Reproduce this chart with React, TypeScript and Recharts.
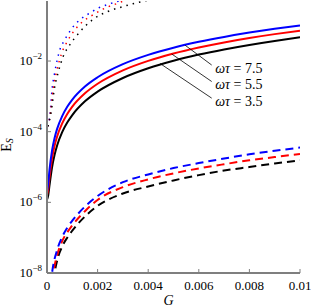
import React from 'react';
import { LineChart, Line, XAxis, YAxis, ReferenceLine, ReferenceDot } from 'recharts';

// solid curves
const G_SOLID = [0, 0.00005, 0.0001, 0.0002, 0.0003, 0.0004, 0.0006, 0.0008, 0.001, 0.0015, 0.002, 0.003, 0.004, 0.005, 0.006, 0.007, 0.008, 0.009, 0.01];
const SOLID_BLUE = [2.0e-6, 3.5e-6, 8.4e-6, 2.96e-5, 6.67e-5, 1.2e-4, 2.77e-4, 5.07e-4, 8.1e-4, 1.9e-3, 3.47e-3, 8.14e-3, 1.49e-2, 2.38e-2, 3.49e-2, 4.82e-2, 6.38e-2, 8.17e-2, 0.102];
const SOLID_RED = [1.6e-6, 2.42e-6, 5.2e-6, 1.77e-5, 4.01e-5, 7.3e-5, 1.71e-4, 3.18e-4, 5.13e-4, 1.22e-3, 2.27e-3, 5.44e-3, 1.01e-2, 1.63e-2, 2.41e-2, 3.36e-2, 4.48e-2, 5.77e-2, 7.24e-2];
const SOLID_BLACK = [1.2e-6, 1.61e-6, 3.06e-6, 9.8e-6, 2.21e-5, 4.06e-5, 9.7e-5, 1.81e-4, 2.95e-4, 7.22e-4, 1.36e-3, 3.31e-3, 6.24e-3, 1.02e-2, 1.52e-2, 2.13e-2, 2.86e-2, 3.71e-2, 4.68e-2];

// dashed curves
const G_DASH_BLUE = [0.0001, 0.0002, 0.0004, 0.0006, 0.0008, 0.001, 0.0015, 0.002, 0.003, 0.004, 0.005, 0.006, 0.007, 0.008, 0.009, 0.01];
const DASH_BLUE = [2.0e-9, 1.0e-8, 4.47e-8, 1.05e-7, 1.91e-7, 3.02e-7, 7.59e-7, 1.51e-6, 3.72e-6, 6.17e-6, 9.33e-6, 1.29e-5, 1.74e-5, 2.29e-5, 2.88e-5, 3.55e-5];
const G_DASH_RED = [0.00015, 0.00025, 0.0004, 0.0006, 0.0008, 0.001, 0.0015, 0.002, 0.003, 0.004, 0.005, 0.006, 0.007, 0.008, 0.009, 0.01];
const DASH_RED = [2.5e-9, 1.0e-8, 3.16e-8, 7.94e-8, 1.41e-7, 2.24e-7, 5.62e-7, 1.17e-6, 2.69e-6, 4.47e-6, 6.61e-6, 9.12e-6, 1.2e-5, 1.55e-5, 1.91e-5, 2.34e-5];
const G_DASH_BLACK = [0.0002, 0.0003, 0.0004, 0.0006, 0.0008, 0.001, 0.0015, 0.002, 0.003, 0.004, 0.005, 0.006, 0.007, 0.008, 0.009, 0.01];
const DASH_BLACK = [2.5e-9, 1.0e-8, 2.24e-8, 5.62e-8, 1.0e-7, 1.58e-7, 3.98e-7, 7.94e-7, 1.78e-6, 2.82e-6, 4.17e-6, 5.89e-6, 7.94e-6, 1.0e-5, 1.26e-5, 1.55e-5];

// dotted curves
const G_DOT_BLUE = [0.00002, 0.00012, 0.0002, 0.0003, 0.0005, 0.0007, 0.001, 0.0013, 0.0017, 0.002, 0.0024, 0.0029, 0.0033];
const DOT_BLUE = [1.41e-4, 3.16e-4, 1.58e-3, 4.47e-3, 2.0e-2, 3.98e-2, 8.71e-2, 0.148, 0.229, 0.309, 0.398, 0.513, 0.6];
const G_DOT_RED = [0.00003, 0.00012, 0.00025, 0.00038, 0.00058, 0.0008, 0.0011, 0.0014, 0.0018, 0.0023, 0.0027, 0.003, 0.0034];
const DOT_RED = [1.41e-4, 2.82e-4, 1.74e-3, 5.01e-3, 1.66e-2, 3.55e-2, 7.59e-2, 0.129, 0.2, 0.316, 0.407, 0.49, 0.575];
const G_DOT_BLACK = [0.00004, 0.00015, 0.0003, 0.00045, 0.00064, 0.0009, 0.0012, 0.0015, 0.0019, 0.0024, 0.003, 0.0034, 0.0038, 0.0042];
const DOT_BLACK = [1.41e-4, 3.16e-4, 1.78e-3, 5.01e-3, 1.35e-2, 2.88e-2, 5.5e-2, 9.55e-2, 0.166, 0.251, 0.347, 0.417, 0.49, 0.56];

// axes
const X_TICKS = [0, 0.002, 0.004, 0.006, 0.008, 0.01];
const X_TICK_LABELS = ['0', '0.002', '0.004', '0.006', '0.008', '0.01'];
const Y_TICKS = [1e-8, 1e-6, 1e-4, 1e-2];
const Y_DOMAIN = [1e-8, 0.5];

// leader-line annotations (omega tau values)
const NOTE_VALUES = ['7.5', '5.5', '3.5'];
const NOTE_FROM_G = [0.00546, 0.00493, 0.00447];
const NOTE_FROM_E = [0.028, 0.0158, 0.0085];
const NOTE_TO_G = [0.00651, 0.00651, 0.00651];
const NOTE_TO_E = [0.0077, 0.00263, 0.00089];

const zip = (gs: number[], es: number[]) => gs.map((g, i) => ({ g, e: es[i] }));

const FONT = 'Liberation Serif';
const AXIS_GRAY = '#7f7f7f';

const XTick = ({ x, y, index }: any) => (
  <text x={x} y={y + 8.5} textAnchor="middle" fontSize={13} fontFamily={FONT} fill="#000">
    {X_TICK_LABELS[index]}
  </text>
);

const YTick = ({ x, y, payload }: any) => {
  const p = Math.round(Math.log10(payload.value));
  return (
    <text x={x} y={y + 4} textAnchor="end" fontSize={13} fontFamily={FONT} fill="#000">
      <tspan>10</tspan>
      <tspan dy={-6} fontSize={9}>{'\u2212' + Math.abs(p)}</tspan>
    </text>
  );
};

const NoTick = () => <g />;

const series = [
  { key: 'dotB', data: zip(G_DOT_BLUE, DOT_BLUE), color: '#0000ff', w: 1.5, dash: '1.5 5' },
  { key: 'dotR', data: zip(G_DOT_RED, DOT_RED), color: '#ff0000', w: 1.5, dash: '1.5 5' },
  { key: 'dotK', data: zip(G_DOT_BLACK, DOT_BLACK), color: '#000000', w: 1.5, dash: '1.5 5' },
  { key: 'dashK', data: zip(G_DASH_BLACK, DASH_BLACK), color: '#000000', w: 2, dash: '8 5' },
  { key: 'dashR', data: zip(G_DASH_RED, DASH_RED), color: '#ff0000', w: 2, dash: '8 5' },
  { key: 'dashB', data: zip(G_DASH_BLUE, DASH_BLUE), color: '#0000ff', w: 2, dash: '8 5' },
  { key: 'solK', data: zip(G_SOLID, SOLID_BLACK), color: '#000000', w: 2, dash: undefined },
  { key: 'solR', data: zip(G_SOLID, SOLID_RED), color: '#ff0000', w: 2, dash: undefined },
  { key: 'solB', data: zip(G_SOLID, SOLID_BLUE), color: '#0000ff', w: 2, dash: undefined },
];

export default function App() {
  return (
    <div style={{ position: 'absolute', left: 0, top: 0, background: '#fff' }}>
      <LineChart width={311} height={307} margin={{ top: 1, right: 11, bottom: 0, left: 0 }}>
        <XAxis
          dataKey="g"
          type="number"
          domain={[0, 0.01]}
          ticks={X_TICKS}
          interval={0}
          height={34}
          tickSize={-4}
          tickMargin={12}
          tick={<XTick />}
          axisLine={{ stroke: AXIS_GRAY, strokeWidth: 2 }}
          tickLine={{ stroke: AXIS_GRAY }}
          allowDataOverflow
          label={{
            content: () => (
              <text x={168.5} y={305} textAnchor="middle" fontSize={14} fontStyle="italic" fontFamily={FONT} fill="#000">
                G
              </text>
            ),
          }}
        />
        <XAxis
          xAxisId="top"
          orientation="top"
          type="number"
          domain={[0, 0.01]}
          ticks={X_TICKS}
          interval={0}
          height={0}
          tickSize={-4}
          tick={<NoTick />}
          axisLine={{ stroke: AXIS_GRAY, strokeWidth: 2 }}
          tickLine={{ stroke: AXIS_GRAY }}
        />
        <YAxis
          scale="log"
          domain={Y_DOMAIN}
          ticks={Y_TICKS}
          interval={0}
          width={47}
          tickSize={-4}
          tickMargin={9}
          tick={<YTick />}
          axisLine={{ stroke: AXIS_GRAY, strokeWidth: 2 }}
          tickLine={{ stroke: AXIS_GRAY }}
          allowDataOverflow
          label={{
            content: () => (
              <text transform="rotate(-90)" x={-145} y={11} textAnchor="middle" fontSize={14} fontFamily={FONT} fill="#000">
                <tspan>E</tspan>
                <tspan dy={2} fontSize={10} fontStyle="italic">S</tspan>
              </text>
            ),
          }}
        />
        <YAxis
          yAxisId="right"
          orientation="right"
          scale="log"
          domain={Y_DOMAIN}
          ticks={Y_TICKS}
          interval={0}
          width={0}
          tickSize={-4}
          tick={<NoTick />}
          axisLine={{ stroke: AXIS_GRAY, strokeWidth: 2 }}
          tickLine={{ stroke: AXIS_GRAY }}
          allowDataOverflow
        />
        {series.map((s) => (
          <Line
            key={s.key}
            data={s.data}
            dataKey="e"
            type="monotone"
            stroke={s.color}
            strokeWidth={s.w}
            strokeDasharray={s.dash}
            dot={false}
            activeDot={false}
            isAnimationActive={false}
          />
        ))}
        {NOTE_VALUES.map((v, i) => (
          <ReferenceLine
            key={'l' + v}
            segment={[
              { x: NOTE_FROM_G[i], y: NOTE_FROM_E[i] },
              { x: NOTE_TO_G[i], y: NOTE_TO_E[i] },
            ]}
            stroke="#000"
            strokeWidth={0.8}
          />
        ))}
        {NOTE_VALUES.map((v, i) => (
          <ReferenceDot
            key={'d' + v}
            x={NOTE_TO_G[i]}
            y={NOTE_TO_E[i]}
            r={0}
            fill="none"
            stroke="none"
            label={{
              content: (p: any) => (
                <text x={p.viewBox.x + 3.5} y={p.viewBox.y + 7.5} fontSize={14} fontFamily={FONT} fill="#000">
                  <tspan fontStyle="italic">ωτ</tspan>
                  <tspan> = {v}</tspan>
                </text>
              ),
            }}
          />
        ))}
      </LineChart>
    </div>
  );
}
